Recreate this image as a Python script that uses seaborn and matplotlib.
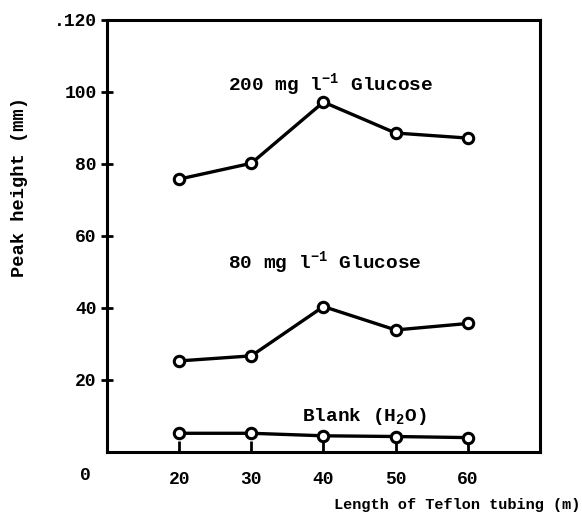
import numpy as np
import pandas as pd
import matplotlib
matplotlib.use('Agg')
import matplotlib.pyplot as plt
import seaborn as sns

# Datos
longitud = [20, 30, 40, 50, 60]
glucosa_200 = [75.8, 80.2, 97.2, 88.6, 87.2]
glucosa_80 = [25.3, 26.7, 40.4, 33.9, 35.7]
blanco = [5.2, 5.2, 4.5, 4.3, 4.0]
y_ticks = [20, 40, 60, 80, 100, 120]
y_tick_labels = ['20', '40', '60', '80', '100', '.120']

series = {'200': glucosa_200, '80': glucosa_80, 'blank': blanco}
df = pd.concat([
    pd.DataFrame({'length': longitud, 'height': v, 'serie': k})
    for k, v in series.items()
], ignore_index=True)

sns.set_theme(style='white')
plt.rcParams['font.family'] = ['Liberation Mono', 'DejaVu Sans']
plt.rcParams['font.weight'] = 'bold'
plt.rcParams['mathtext.default'] = 'regular'
plt.rcParams['text.color'] = 'black'
plt.rcParams['xtick.color'] = 'black'
plt.rcParams['ytick.color'] = 'black'

fig = plt.figure(figsize=(5.82, 5.22), dpi=100)
ax = fig.add_axes([0.1838, 0.1341, 0.744, 0.8276])

sns.lineplot(data=df, x='length', y='height', units='serie', estimator=None,
             color='black', linewidth=2.4, marker='o', markersize=7.5,
             markerfacecolor='white', markeredgecolor='black',
             markeredgewidth=2.2, ax=ax)

ax.set_xlim(10, 70)
ax.set_ylim(0, 120)
ax.set_xticks(longitud)
ax.set_yticks(y_ticks)
ax.set_yticklabels(y_tick_labels)
ax.tick_params(axis='x', bottom=True, direction='in', length=8, width=2,
               pad=14, labelsize=13)
ax.tick_params(axis='y', left=True, direction='inout', length=9, width=2,
               pad=3, labelsize=13)
for s in ax.spines.values():
    s.set_linewidth(2.2)
    s.set_color('black')

ax.text(-0.05, -0.055, '0', transform=ax.transAxes, ha='center', va='center',
        fontsize=13)

ax.text(26.8, 102, r'200 mg l$^{-1}$ Glucose', fontsize=14, va='center', ha='left')
ax.text(26.8, 52.5, r'80 mg l$^{-1}$ Glucose', fontsize=14, va='center', ha='left')
ax.text(45.7, 9.8, r'Blank (H$_2$O)', fontsize=14, va='center', ha='center')

ax.set_xlabel('')
ax.set_ylabel('')
fig.text(0.997, 0.033, 'Length of Teflon tubing (m)', ha='right', va='center',
         fontsize=11)
fig.text(0.034, 0.642, 'Peak height (mm)', rotation=90, ha='center', va='center',
         fontsize=13.5)

fig.savefig('out.png', dpi=100)
